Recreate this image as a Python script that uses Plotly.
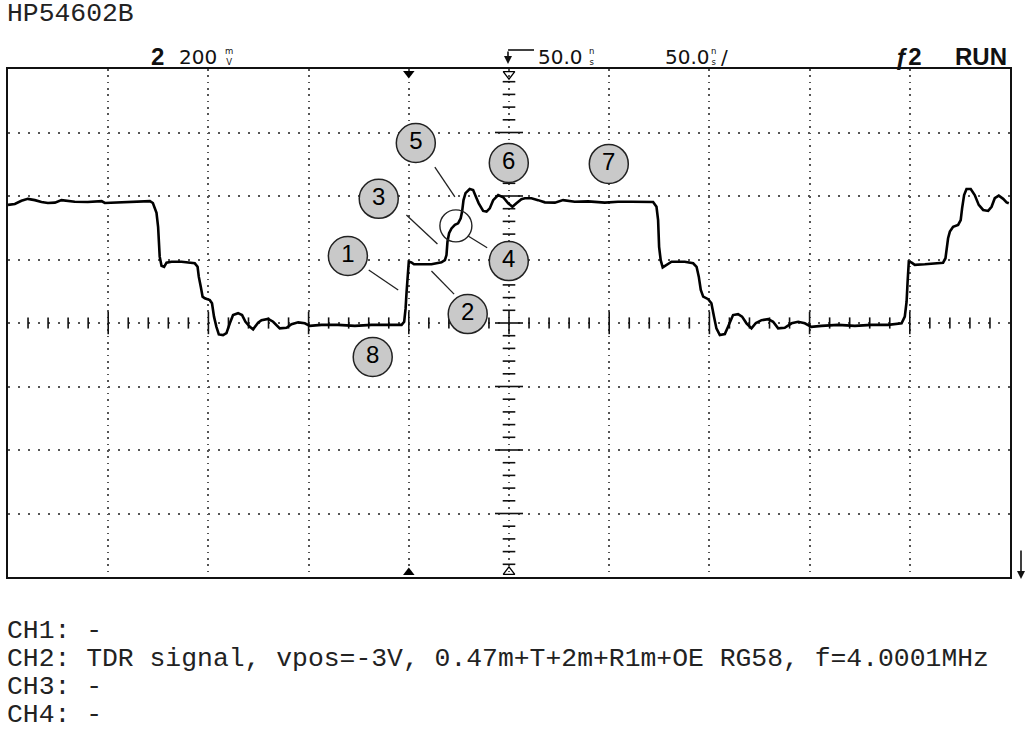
import plotly.graph_objects as go

# ---------------- data: CH2 TDR trace (time in ns, voltage in mV) ----------------
t_ns = [
    -200.0, -196.6, -193.3, -190.1, -186.6, -183.3, -180.1, -176.6, -173.3, -170.2,
    -166.7, -160.2, -153.3, -151.7, -148.4, -143.4, -138.4, -131.7, -129.2, -127.7,
    -125.9, -125.1, -124.8, -124.3, -123.4, -122.1, -120.9, -118.4, -113.4, -108.4,
    -106.8, -105.4, -104.8, -103.8, -102.9, -101.8, -99.3, -98.2, -97.2, -96.0,
    -94.8, -92.7, -91.0, -89.3, -87.7, -85.2, -83.2, -81.5, -79.3, -77.7,
    -75.2, -73.5, -70.2, -67.7, -64.4, -61.0, -58.5, -55.2, -51.9, -49.4,
    -43.6, -35.3, -26.9, -18.6, -10.3, -3.6, -2.3, -1.6, -1.1, -0.6,
    0.0, 1.3, 2.6, 6.3, 11.3, 16.3, 18.0, 18.8, 19.3, 20.1,
    21.3, 23.0, 24.6, 25.9, 26.6, 27.3, 28.3, 30.4, 32.1, 33.8,
    34.9, 37.1, 38.8, 40.4, 42.1, 44.6, 47.1, 49.6, 51.7, 53.7,
    56.2, 57.9, 61.2, 64.5, 67.9, 72.9, 77.0, 82.8, 89.5, 97.8,
    104.4, 111.1, 117.8, 121.9, 123.6, 124.4, 124.9, 125.7, 126.7, 128.6,
    131.1, 137.7, 141.9, 143.6, 144.7, 145.7, 146.9, 149.4, 151.0, 152.3,
    153.5, 155.2, 157.7, 159.3, 161.8, 164.3, 166.3, 168.5, 171.0, 173.2,
    176.0, 179.3, 181.8, 184.3, 187.6, 191.0, 194.3, 197.6, 200.9, 205.9,
    214.2, 222.6, 230.9, 239.2, 245.9, 247.5, 248.4, 248.9, 249.5, 250.8,
    252.5, 257.5, 262.5, 266.6, 267.8, 268.5, 269.1, 270.0, 271.6, 274.1,
    275.4, 276.1, 277.1, 278.3, 280.4, 282.4, 284.4, 286.6, 289.1, 290.8,
    292.4, 294.4, 296.6, 298.3, 299.4,
]
v_mv = [
    372, 375, 385, 391, 387, 381, 378, 379, 387, 385,
    382, 381, 384, 378, 379, 381, 381, 384, 384, 378,
    347, 303, 240, 209, 180, 177, 190, 193, 193, 190,
    188, 177, 146, 114, 83, 78, 72, 62, 20, -12,
    -36, -38, -32, -1, 25, 31, 25, 4, -12, -20,
    1, 9, 13, 4, -17, -15, -4, 2, -1, -9,
    -6, -6, -9, -6, -6, -6, 4, 46, 99, 151,
    193, 191, 185, 185, 185, 191, 198, 214, 256, 283,
    298, 309, 314, 330, 351, 387, 409, 422, 419, 393,
    377, 353, 351, 361, 387, 403, 396, 377, 366, 377,
    390, 393, 393, 387, 380, 379, 387, 382, 383, 379,
    382, 382, 381, 381, 366, 324, 240, 198, 175, 183,
    193, 193, 188, 177, 146, 104, 83, 75, 62, 20,
    -17, -38, -35, -12, 25, 28, 20, -1, -17, 0,
    9, 12, 4, -17, -15, -1, 4, -1, -12, -9,
    -6, -9, -6, -6, -1, 20, 67, 130, 193, 191,
    183, 185, 188, 190, 204, 246, 267, 288, 303, 309,
    324, 361, 403, 422, 422, 403, 372, 356, 353, 366,
    393, 401, 391, 380, 377,
]
assert len(t_ns) == len(v_mv), (len(t_ns), len(v_mv))

# screen settings: 50 ns/div (10 div), 200 mV/div (8 div)
time_range = [-200, 300]
volt_range = [-800, 800]
time_div = 50
volt_div = 200
center_t = 50
trigger_t = 0

# numbered callouts (centre in data units)
callout_labels = ["1", "2", "3", "4", "5", "6", "7", "8"]
callout_t = [-30.4, 29.4, -15.0, 49.9, 3.5, 49.9, 99.8, -18.0]
callout_v = [211, 28, 391, 195, 567, 504, 501, -107]

# leader lines (start/end in data units)
lead_t0 = [-20.0, 11.3, -1.2, 29.6, 13.0]
lead_v0 = [167, 164, 340, 274, 491]
lead_t1 = [-5.3, 22.6, 14.3, 39.1, 23.0]
lead_v1 = [104, 91, 249, 237, 397]

# small unlabeled circle around the step
ring_t = [23.5]
ring_v = [306]

header_texts = ["2", "200", "50.0", "50.0", "ƒ2", "RUN"]
footer_lines = [
    "CH1: -",
    "CH2: TDR signal, vpos=-3V, 0.47m+T+2m+R1m+OE RG58, f=4.0001MHz",
    "CH3: -",
    "CH4: -",
]

# ---------------- page geometry ----------------
W, H = 1026, 731
L, R, T, B = 8, 1010, 69, 577


def px(x):
    return (x - L) / (R - L)


def py(y):
    return (B - y) / (B - T)


fig = go.Figure()

# centre-axis graticule ticks
minor_t = [t for t in range(time_range[0], time_range[1] + 1, 10) if t % time_div != 0]
major_t = [t for t in range(time_range[0] + time_div, time_range[1], time_div)]
minor_v = [v for v in range(volt_range[0], volt_range[1] + 1, 40) if v % volt_div != 0]
major_v = [v for v in range(volt_range[0] + volt_div, volt_range[1], volt_div)]

tick_style = dict(color="#111", width=1.6)
fig.add_trace(go.Scatter(x=minor_t, y=[0] * len(minor_t), mode="markers", hoverinfo="skip",
                         marker=dict(symbol="line-ns", size=8, line=tick_style)))
fig.add_trace(go.Scatter(x=major_t, y=[0] * len(major_t), mode="markers", hoverinfo="skip",
                         marker=dict(symbol="line-ns", size=16, line=tick_style)))
fig.add_trace(go.Scatter(x=[center_t] * len(minor_v), y=minor_v, mode="markers", hoverinfo="skip",
                         marker=dict(symbol="line-ew", size=9, line=tick_style)))
fig.add_trace(go.Scatter(x=[center_t] * len(major_v), y=major_v, mode="markers", hoverinfo="skip",
                         marker=dict(symbol="line-ew", size=20, line=tick_style)))

# trigger / reference markers at screen top and bottom
fig.add_trace(go.Scatter(x=[trigger_t], y=[volt_range[1] - 14], mode="markers", cliponaxis=False,
                         marker=dict(symbol="triangle-down", size=10, color="black"), hoverinfo="skip"))
fig.add_trace(go.Scatter(x=[trigger_t], y=[volt_range[0] + 14], mode="markers", cliponaxis=False,
                         marker=dict(symbol="triangle-up", size=10, color="black"), hoverinfo="skip"))
fig.add_trace(go.Scatter(x=[center_t], y=[volt_range[1] - 16], mode="markers", cliponaxis=False,
                         marker=dict(symbol="triangle-down-open", size=10, color="black",
                                     line=dict(width=1.3)), hoverinfo="skip"))
fig.add_trace(go.Scatter(x=[center_t], y=[volt_range[0] + 16], mode="markers", cliponaxis=False,
                         marker=dict(symbol="triangle-up-open", size=10, color="black",
                                     line=dict(width=1.3)), hoverinfo="skip"))

# waveform
fig.add_trace(go.Scatter(x=t_ns, y=v_mv, mode="lines", line=dict(color="black", width=2.6),
                         hoverinfo="skip"))

# leader lines
for a, b, c, d in zip(lead_t0, lead_v0, lead_t1, lead_v1):
    fig.add_shape(type="line", x0=a, y0=b, x1=c, y1=d, xref="x", yref="y",
                  line=dict(color="#222", width=1.3))

# ring
fig.add_trace(go.Scatter(x=ring_t, y=ring_v, mode="markers", hoverinfo="skip",
                         marker=dict(symbol="circle-open", size=32, color="#222",
                                     line=dict(width=1.4))))

# numbered callouts
fig.add_trace(go.Scatter(x=callout_t, y=callout_v, mode="markers+text", text=callout_labels,
                         textposition="middle center", hoverinfo="skip",
                         textfont=dict(family="Liberation Sans", size=24, color="black"),
                         marker=dict(symbol="circle", size=39, color="#c9c9c9",
                                     line=dict(color="#222", width=1.5))))

# ---------------- text ----------------
ann = []
mono = dict(family="Liberation Mono", size=26.4, color="#222")
ann.append(dict(text="HP54602B", x=px(6), y=py(14.5), xanchor="left", yanchor="middle",
                font=mono, borderpad=0))
footer_y = [630.5, 658.5, 686.5, 714.5]
for line, yy in zip(footer_lines, footer_y):
    ann.append(dict(text=line, x=px(6), y=py(yy), xanchor="left",
                    yanchor="middle", font=mono, borderpad=0))

bold = dict(family="Liberation Sans", size=24, color="#111")
reg = dict(family="DejaVu Sans", size=20, color="#111")
small = dict(family="DejaVu Sans", size=8.5, color="#111")
ann.append(dict(text="<b>" + header_texts[0] + "</b>", x=px(157.5), y=py(56), xanchor="center",
                yanchor="middle", font=bold))
ann.append(dict(text=header_texts[1], x=px(177), y=py(56.5), xanchor="left", yanchor="middle", font=reg))
ann.append(dict(text="m<br>V", x=px(228.5), y=py(56), xanchor="center", yanchor="middle",
                font=small, borderpad=0))
ann.append(dict(text=header_texts[2], x=px(536), y=py(56.5), xanchor="left", yanchor="middle", font=reg))
ann.append(dict(text="n<br>s", x=px(591), y=py(56), xanchor="center", yanchor="middle",
                font=small, borderpad=0))
ann.append(dict(text=header_texts[3], x=px(663), y=py(56.5), xanchor="left", yanchor="middle", font=reg))
ann.append(dict(text="n<br>s", x=px(713), y=py(56), xanchor="center", yanchor="middle",
                font=small, borderpad=0))
ann.append(dict(text="/", x=px(719), y=py(56.5), xanchor="left", yanchor="middle", font=reg))
ann.append(dict(text="<b>" + header_texts[4] + "</b>", x=px(924), y=py(56), xanchor="right",
                yanchor="middle", font=bold))
ann.append(dict(text="<b>" + header_texts[5] + "</b>", x=px(1009), y=py(56), xanchor="right",
                yanchor="middle", font=bold))
# delay arrow symbol
ann.append(dict(text="", x=px(508), y=py(64), ax=0, ay=-14, showarrow=True, arrowhead=2,
                arrowsize=1, arrowwidth=1.6, arrowcolor="#111", xref="paper", yref="paper"))
# off-screen ground marker (bottom right)
ann.append(dict(text="", x=px(1021), y=py(579), ax=0, ay=-30, showarrow=True, arrowhead=2,
                arrowsize=1, arrowwidth=1.6, arrowcolor="#111", xref="paper", yref="paper"))
for a in ann:
    a.setdefault("xref", "paper")
    a.setdefault("yref", "paper")
    a.setdefault("showarrow", False)
fig.update_layout(annotations=ann)
fig.add_shape(type="line", xref="paper", yref="paper", x0=px(508), x1=px(534), y0=py(50), y1=py(50),
              line=dict(color="#111", width=1.6))

fig.update_layout(
    width=W, height=H, autosize=False,
    margin=dict(l=L, r=W - R, t=T, b=H - B, pad=0),
    paper_bgcolor="white", plot_bgcolor="white", showlegend=False,
    xaxis=dict(range=time_range, dtick=time_div, tick0=0, showticklabels=False, ticks="",
               showgrid=True, gridcolor="#555", gridwidth=1.6, griddash="1.6px,4.75px",
               zeroline=False, showline=True, mirror=True, linecolor="#111", linewidth=2,
               fixedrange=True),
    yaxis=dict(range=volt_range, dtick=volt_div, tick0=0, showticklabels=False, ticks="",
               showgrid=True, gridcolor="#555", gridwidth=1.6, griddash="1.6px,8.4px",
               zeroline=False, showline=True, mirror=True, linecolor="#111", linewidth=2,
               fixedrange=True),
)

fig.write_html("out.html")
